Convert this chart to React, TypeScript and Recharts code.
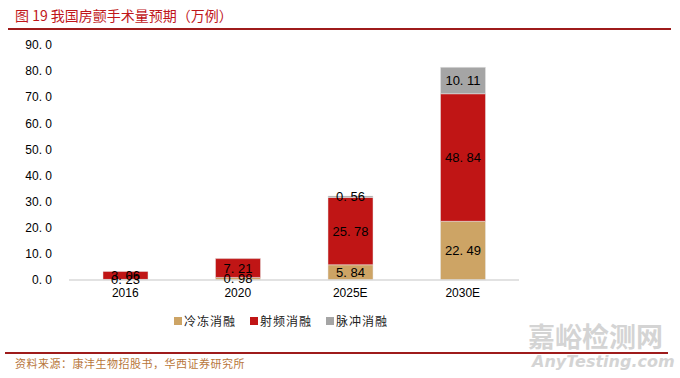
import React from 'react';
import { BarChart, Bar, XAxis, YAxis, LabelList } from 'recharts';

const years = ['2016', '2020', '2025E', '2030E'];
const cryo = [0.23, 0.98, 5.84, 22.49];
const rf = [3.06, 7.21, 25.78, 48.84];
const pulse = [null, null, 0.56, 10.11];
const yTicks = [0, 10, 20, 30, 40, 50, 60, 70, 80, 90];

const seriesNames = ['冷冻消融', '射频消融', '脉冲消融'];
const seriesColors = ['#CDA465', '#C01515', '#A5A5A5'];

const data = years.map((y, i) => ({ year: y, cryo: cryo[i], rf: rf[i], pulse: pulse[i] }));

const numFont = '"Liberation Sans", Arial, sans-serif';
const cjkFont = '"Noto Sans CJK SC", sans-serif';

// the source renders a wide gap after the decimal point
const fmt = (v: any, digits: number) =>
  v == null ? '' : Number(v).toFixed(digits).replace('.', '. ');

const App: React.FC = () => {
  return (
    <div style={{ position: 'absolute', left: 0, top: 0, width: 680, height: 378, background: '#fff', overflow: 'hidden' }}>
      <div style={{ position: 'absolute', left: 15, top: 5, fontFamily: cjkFont, fontSize: 14, color: '#C0161A', whiteSpace: 'nowrap' }}>
        图 19 我国房颤手术量预期（万例）
      </div>
      <div style={{ position: 'absolute', left: 8, top: 28, width: 663, height: 2, background: '#9E1B1B' }} />

      <BarChart
        width={680}
        height={378}
        data={data}
        margin={{ top: 45, right: 161, bottom: 78, left: 9 }}
        barSize={45}
        style={{ position: 'absolute', left: 0, top: 0 }}
      >
        <YAxis
          width={60}
          domain={[0, 90]}
          ticks={yTicks}
          interval={0}
          axisLine={false}
          tickLine={false}
          tickMargin={11}
          tickFormatter={(v) => fmt(v, 1)}
          tick={{ fill: '#000', fontSize: 12, fontFamily: numFont }}
        />
        <XAxis
          dataKey="year"
          height={20}
          axisLine={{ stroke: '#d9d9d9', strokeWidth: 1.5 }}
          tickLine={false}
          tick={{ fill: '#000', fontSize: 12, fontFamily: numFont }}
        />
        <Bar dataKey="cryo" stackId="a" fill={seriesColors[0]} stroke="#e6e6e6" strokeWidth={0.5} isAnimationActive={false}>
          <LabelList dataKey="cryo" position="center" formatter={(v: any) => fmt(v, 2)} fill="#000" fontSize={13} fontFamily={numFont} />
        </Bar>
        <Bar dataKey="rf" stackId="a" fill={seriesColors[1]} stroke="#e6e6e6" strokeWidth={0.5} isAnimationActive={false}>
          <LabelList dataKey="rf" position="center" formatter={(v: any) => fmt(v, 2)} fill="#000" fontSize={13} fontFamily={numFont} />
        </Bar>
        <Bar dataKey="pulse" stackId="a" fill={seriesColors[2]} stroke="#e6e6e6" strokeWidth={0.5} isAnimationActive={false}>
          <LabelList dataKey="pulse" position="center" formatter={(v: any) => fmt(v, 2)} fill="#000" fontSize={13} fontFamily={numFont} />
        </Bar>
      </BarChart>

      <div style={{ position: 'absolute', left: 174, top: 312, display: 'flex', fontFamily: cjkFont, fontSize: 12, color: '#222', whiteSpace: 'nowrap' }}>
        {seriesNames.map((n, i) => (
          <div key={n} style={{ display: 'flex', alignItems: 'center', marginRight: 14 }}>
            <span style={{ display: 'inline-block', width: 8, height: 8, background: seriesColors[i], marginRight: 2 }} />
            <span style={{ letterSpacing: 1 }}>{n}</span>
          </div>
        ))}
      </div>

      <div style={{ position: 'absolute', left: 528, top: 316, fontFamily: cjkFont, fontSize: 27, fontWeight: 700, color: '#d4d4d4', whiteSpace: 'nowrap' }}>
        嘉峪检测网
      </div>
      <div style={{ position: 'absolute', left: 5, top: 352, width: 663, height: 2, background: '#9E1B1B' }} />
      <div style={{ position: 'absolute', left: 532, top: 352, fontFamily: '"DejaVu Sans", sans-serif', fontSize: 16, fontWeight: 700, fontStyle: 'italic', color: '#d4d4d4', whiteSpace: 'nowrap' }}>
        AnyTesting.com
      </div>
      <div style={{ position: 'absolute', left: 15, top: 355, fontFamily: cjkFont, fontSize: 11, color: '#B8763A', whiteSpace: 'nowrap', letterSpacing: 0.5 }}>
        资料来源：康沣生物招股书，华西证券研究所
      </div>
    </div>
  );
};

export default App;
